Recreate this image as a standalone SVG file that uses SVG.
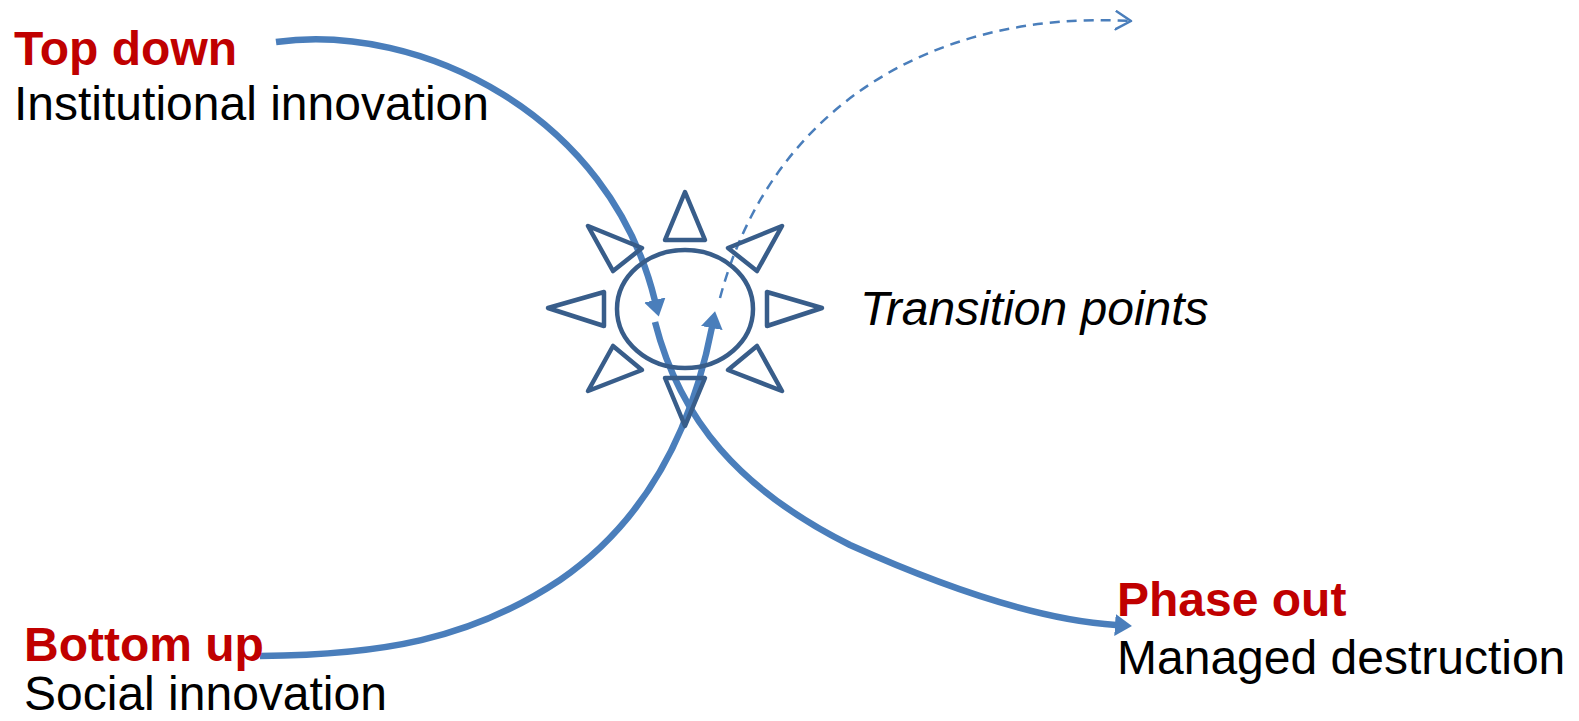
<svg xmlns="http://www.w3.org/2000/svg" width="1579" height="721" viewBox="0 0 1579 721">
<style>
  .t { font-family: "Liberation Sans", Arial, sans-serif; font-size: 48px; }
  .head { font-weight: bold; fill: #C00000; }
  .sub { fill: #000000; }
  .it { font-style: italic; fill: #000000; }
  .flow { fill: none; stroke: #4A7EBB; stroke-width: 6.5; }
  .dash { fill: none; stroke: #4A7EBB; stroke-width: 2.5; stroke-dasharray: 10 7; }
  .sun { fill: none; stroke: #385D8A; stroke-width: 4.5; stroke-linejoin: round; }
</style>
<defs>
  <marker id="arr" viewBox="0 -11 17 22" refX="1" refY="0" markerWidth="17" markerHeight="22" markerUnits="userSpaceOnUse" orient="auto">
    <path d="M0,-11 L17,0 L0,11 Z" fill="#4A7EBB"/>
  </marker>
  <marker id="open" viewBox="-16 -11 18 22" refX="0" refY="0" markerWidth="18" markerHeight="22" markerUnits="userSpaceOnUse" orient="auto">
    <path d="M-15,-9 L0,0 L-15,9" fill="none" stroke="#4A7EBB" stroke-width="2.5" stroke-linecap="round" stroke-linejoin="round"/>
  </marker>
</defs>
<rect width="1579" height="721" fill="#FFFFFF"/>

<g id="connectors">
  <path class="flow" d="M276,42 C420,22 610,115 655,301" marker-end="url(#arr)"/>
  <path class="flow" d="M655,322 C680,420 740,490 850,545 C950,590 1040,620 1116,625" marker-end="url(#arr)"/>
  <path class="flow" d="M260,656 C380,655 470,640 560,580 C640,525 690,440 712,327" marker-end="url(#arr)"/>
  <path class="dash" d="M720,298 C770,110 930,10 1131,21" marker-end="url(#open)"/>
</g>

<g id="transition-sun">
  <ellipse class="sun" cx="685" cy="309" rx="68" ry="59"/>
  <polygon class="sun" points="685,192 705,240 665,240"/>
  <polygon class="sun" points="685,426 705,378 665,378"/>
  <polygon class="sun" points="548,308 604,292 604,326"/>
  <polygon class="sun" points="822,308 767,292 767,326"/>
  <polygon class="sun" points="588,226 642,248 613,271"/>
  <polygon class="sun" points="782,226 728,248 757,271"/>
  <polygon class="sun" points="588,391 642,370 613,346"/>
  <polygon class="sun" points="782,391 728,370 757,346"/>
</g>

<g id="top-down">
  <text class="t head" x="14" y="65">Top down</text>
  <text class="t sub" x="14" y="120">Institutional innovation</text>
</g>
<g id="bottom-up">
  <text class="t head" x="24" y="661">Bottom up</text>
  <text class="t sub" x="24" y="710">Social innovation</text>
</g>
<g id="phase-out">
  <text class="t head" x="1117" y="616">Phase out</text>
  <text class="t sub" x="1117" y="674">Managed destruction</text>
</g>
<g id="transition-points">
  <text class="t it" x="860" y="325">Transition points</text>
</g>
</svg>
